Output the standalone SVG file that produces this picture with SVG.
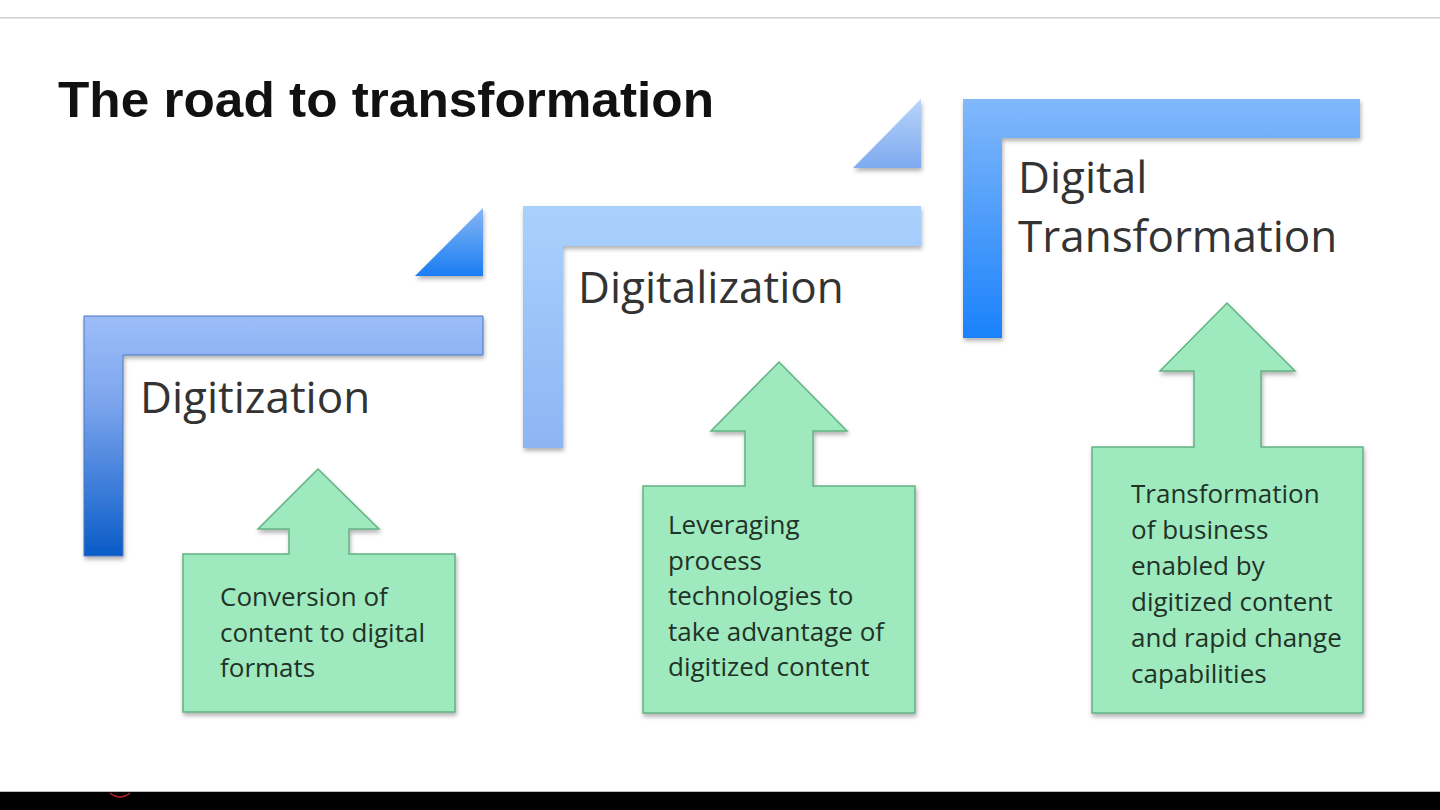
<svg xmlns="http://www.w3.org/2000/svg" width="1440" height="810" viewBox="0 0 1440 810">
  <defs>
    <filter id="shadow" x="-10%" y="-10%" width="130%" height="130%">
      <feDropShadow dx="1" dy="3" stdDeviation="2" flood-color="#000" flood-opacity="0.3"/>
    </filter>
    <linearGradient id="g1" x1="0" y1="316" x2="0" y2="556" gradientUnits="userSpaceOnUse">
      <stop offset="0" stop-color="#9cbdf8"/>
      <stop offset="0.35" stop-color="#7ea6ee"/>
      <stop offset="1" stop-color="#0a5cc8"/>
    </linearGradient>
    <linearGradient id="t1" x1="0" y1="208" x2="0" y2="276" gradientUnits="userSpaceOnUse">
      <stop offset="0" stop-color="#86b6f5"/>
      <stop offset="1" stop-color="#1a7df2"/>
    </linearGradient>
    <linearGradient id="g2" x1="0" y1="206" x2="0" y2="448" gradientUnits="userSpaceOnUse">
      <stop offset="0" stop-color="#aad1fd"/>
      <stop offset="1" stop-color="#8db5f3"/>
    </linearGradient>
    <linearGradient id="t2" x1="0" y1="99" x2="0" y2="168" gradientUnits="userSpaceOnUse">
      <stop offset="0" stop-color="#b8d4f8"/>
      <stop offset="1" stop-color="#7eaaf0"/>
    </linearGradient>
    <linearGradient id="g3" x1="0" y1="99" x2="0" y2="338" gradientUnits="userSpaceOnUse">
      <stop offset="0" stop-color="#82b8fb"/>
      <stop offset="1" stop-color="#1a82fb"/>
    </linearGradient>
    <style>
      .title { font-family: "Liberation Sans", Arial, sans-serif; font-weight: bold; font-size: 50px; fill: #111; }
      .head { font-family: "Open Sans", "Noto Sans", sans-serif; font-size: 44px; fill: #333; }
      .body { font-family: "Open Sans", "Noto Sans", sans-serif; font-size: 26px; fill: #1f3328; }
      .callout { fill: #9fe9be; stroke: #62b383; stroke-width: 1.5; filter: url(#shadow); }
      .step { filter: url(#shadow); }
    </style>
  </defs>

  <rect x="0" y="0" width="1440" height="810" fill="#ffffff"/>
  <rect x="0" y="17" width="1440" height="1.5" fill="#cfcfcf"/>
  <rect x="0" y="791" width="1440" height="1" fill="#bdbdbd"/>
  <rect x="0" y="792" width="1440" height="18" fill="#000000"/>
  <path d="M110,793 Q120,801 130,793" fill="none" stroke="#c0202a" stroke-width="1.5"/>

  <text class="title" x="58" y="117" textLength="656" lengthAdjust="spacingAndGlyphs">The road to transformation</text>

  <g id="connectors"></g>

  <g id="step-digitization">
    <path class="step" d="M84,316 H483 V355 H123 V556 H84 Z" fill="url(#g1)" stroke="#4a76c4" stroke-width="1"/>
    <text class="head" x="140" y="413">Digitization</text>
  </g>
  <g id="riser-1">
    <path class="step" d="M483,208 V276 H415 Z" fill="url(#t1)"/>
  </g>

  <g id="step-digitalization">
    <path class="step" d="M523,206 H921 V246 H563 V448 H523 Z" fill="url(#g2)"/>
    <text class="head" x="578" y="303">Digitalization</text>
  </g>
  <g id="riser-2">
    <path class="step" d="M921,99 V168 H853 Z" fill="url(#t2)"/>
  </g>

  <g id="step-digital-transformation">
    <path class="step" d="M963,99 H1360 V138 H1002 V338 H963 Z" fill="url(#g3)"/>
    <text class="head" x="1018" y="193">Digital</text>
    <text class="head" x="1018" y="252">Transformation</text>
  </g>

  <g id="callout-1">
    <path class="callout" d="M183,554 H289 V529 H258 L318,469 L379,529 H349 V554 H455 V712 H183 Z"/>
    <text class="body" x="220" y="606">Conversion of</text>
    <text class="body" x="220" y="642">content to digital</text>
    <text class="body" x="220" y="677">formats</text>
  </g>

  <g id="callout-2">
    <path class="callout" d="M643,486 H745 V431 H711 L779,362 L847,431 H813 V486 H915 V713 H643 Z"/>
    <text class="body" x="668" y="534">Leveraging</text>
    <text class="body" x="668" y="570">process</text>
    <text class="body" x="668" y="605">technologies to</text>
    <text class="body" x="668" y="641">take advantage of</text>
    <text class="body" x="668" y="676">digitized content</text>
  </g>

  <g id="callout-3">
    <path class="callout" d="M1092,447 H1194 V371 H1160 L1227,303 L1295,371 H1261 V447 H1363 V713 H1092 Z"/>
    <text class="body" x="1131" y="503">Transformation</text>
    <text class="body" x="1131" y="539">of business</text>
    <text class="body" x="1131" y="575">enabled by</text>
    <text class="body" x="1131" y="611">digitized content</text>
    <text class="body" x="1131" y="647">and rapid change</text>
    <text class="body" x="1131" y="683">capabilities</text>
  </g>
</svg>
